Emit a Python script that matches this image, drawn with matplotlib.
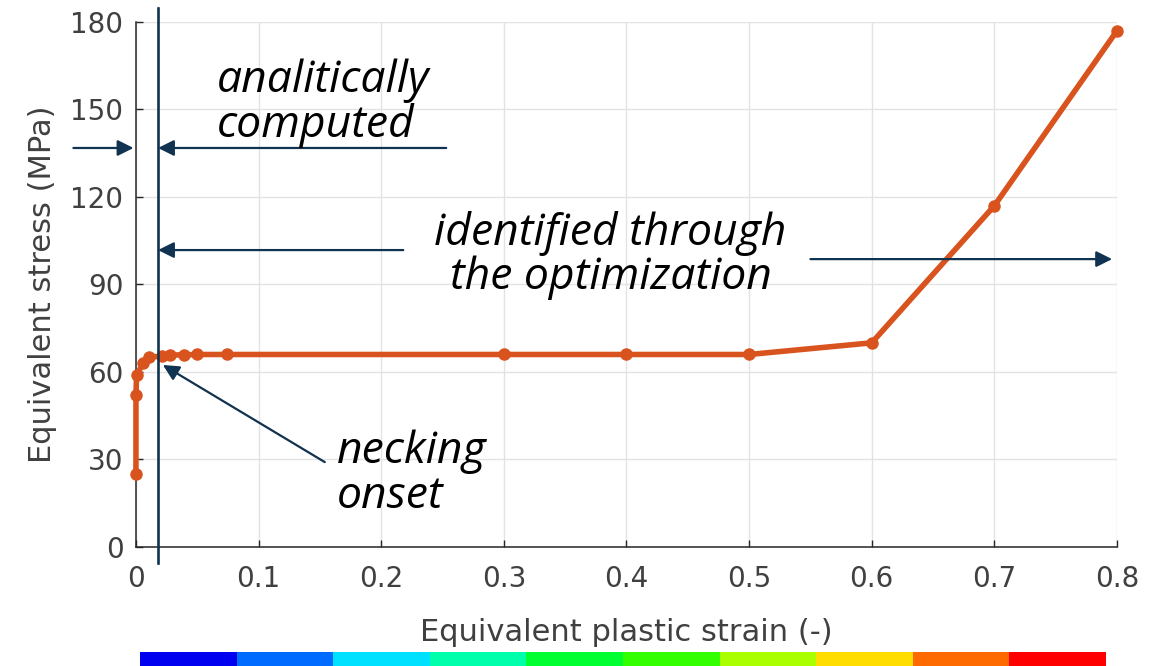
import numpy as np
import matplotlib.pyplot as plt
from matplotlib.transforms import blended_transform_factory

# hardening curve (equivalent plastic strain vs equivalent stress)
strain = [0.0, 0.0, 0.0005, 0.006, 0.011, 0.021, 0.028, 0.039, 0.050, 0.074,
          0.3, 0.4, 0.5, 0.6, 0.7, 0.8]
stress = [25, 52, 59, 63, 65, 65.5, 65.8, 65.9, 66, 66,
          66, 66, 66, 70, 117, 177]

necking_strain = 0.018

x_ticks = [0, 0.1, 0.2, 0.3, 0.4, 0.5, 0.6, 0.7, 0.8]
x_tick_labels = ['0', '0.1', '0.2', '0.3', '0.4', '0.5', '0.6', '0.7', '0.8']
y_ticks = [0, 30, 60, 90, 120, 150, 180]

# discrete strip under the axis label
strip_colors = ['#0000f0', '#006cff', '#00e0ff', '#00ffaa', '#00ff30',
                '#33ff00', '#aaff00', '#ffdd00', '#ff6a00', '#ff0000']

orange = '#d9531e'
navy = '#0f3350'
tick_gray = '#404040'

plt.rcParams['font.family'] = ['DejaVu Sans']

fig = plt.figure(figsize=(11.65, 6.66), dpi=100)
ax = fig.add_axes([0.1167, 0.1787, 0.8421, 0.7883])

ax.plot(strain, stress, color=orange, lw=4.0, marker='o', ms=9,
        markeredgewidth=0, zorder=3, clip_on=False)

ax.set_xlim(0, 0.8)
ax.set_ylim(0, 180)
ax.set_xticks(x_ticks)
ax.set_xticklabels(x_tick_labels)
ax.set_yticks(y_ticks)
ax.grid(True, color='#e3e3e3', lw=1.0, zorder=0)
ax.set_axisbelow(True)
for side in ['top', 'right']:
    ax.spines[side].set_visible(False)
for side in ['left', 'bottom']:
    ax.spines[side].set_color('#262626')
    ax.spines[side].set_linewidth(1.1)
ax.tick_params(direction='in', length=5, width=1.0, colors='#262626',
               labelcolor=tick_gray, labelsize=20)
ax.tick_params(axis='x', pad=13)
ax.tick_params(axis='y', pad=9)
ax.set_xlabel('Equivalent plastic strain (-)', fontsize=22, color=tick_gray,
              labelpad=18)
ax.set_ylabel('Equivalent stress (MPa)', fontsize=22, color=tick_gray,
              labelpad=10)

# necking onset marker line, running past the axes box
trans = blended_transform_factory(ax.transData, ax.transAxes)
ax.plot([necking_strain, necking_strain], [-0.03, 1.027], transform=trans,
        color=navy, lw=1.9, clip_on=False, zorder=5)

arrow = dict(arrowstyle='-|>', color=navy, lw=1.6, mutation_scale=24,
             shrinkA=0, shrinkB=0)
ann_font = dict(family=['Open Sans', 'DejaVu Sans'], style='italic',
                fontsize=32, color='black')

# analytically computed zone
ax.annotate('', xy=(-0.002, 136.8), xytext=(-0.051, 136.8),
            arrowprops=arrow, annotation_clip=False)
ax.annotate('', xy=(necking_strain, 136.8), xytext=(0.253, 136.8),
            arrowprops=arrow, annotation_clip=False)
ax.text(0.066, 152, 'analitically\ncomputed', ha='left', va='center',
        linespacing=1.0, **ann_font)

# optimised zone
ax.annotate('', xy=(necking_strain, 101.8), xytext=(0.218, 101.8),
            arrowprops=arrow)
ax.annotate('', xy=(0.796, 98.7), xytext=(0.550, 98.7),
            arrowprops=arrow, annotation_clip=False)
ax.text(0.387, 100, 'identified through\nthe optimization', ha='center',
        va='center', linespacing=1.0, **ann_font)

# necking onset
ax.annotate('', xy=(0.022, 62.4), xytext=(0.154, 29.1), arrowprops=arrow)
ax.text(0.164, 25, 'necking\nonset', ha='left', va='center',
        linespacing=1.0, **ann_font)

# colour strip along the bottom edge
cax = fig.add_axes([140 / 1165, 0.0, (1106 - 140) / 1165, 14 / 666])
cax.bar(np.arange(len(strip_colors)), np.ones(len(strip_colors)), width=1.0,
        color=strip_colors, align='edge', edgecolor='none')
cax.set_xlim(0, len(strip_colors))
cax.set_ylim(0, 1)
cax.axis('off')

fig.savefig('out.png', dpi=100)
